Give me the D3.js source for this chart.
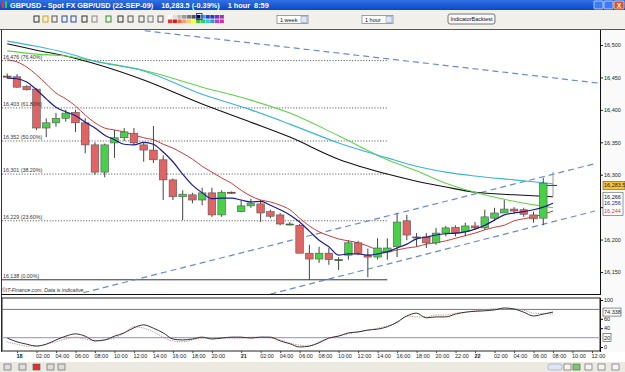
<!DOCTYPE html>
<html>
<head>
<meta charset="utf-8">
<script src="https://cdn.jsdelivr.net/npm/d3@7"></script>
<style>
body { margin: 0; background: #fff; }
svg { display: block; font-family: "Liberation Sans", Arial, sans-serif; }
</style>
</head>
<body>
<svg id="chart" width="625" height="372"></svg>
<script>
// hourly candles, index -1 = Thu 23:00, 0 = Fri 18 00:00, 23 = Mon 21 00:00, 47 = Tue 22 00:00
var firstIdx = -1;
var open  = [16452,16451,16436,16432,16372,16380,16387,16396,16380,16346,16304,16349,16357,16364,16346,16338,16323,16292,16266,16269,16261,16272,16238,16273,16243,16252,16255,16243,16238,16224,16222,16179,16170,16179,16169,16176,16195,16176,16173,16181,16189,16229,16204,16204,16195,16210,16219,16212,16221,16218,16233,16241,16247,16246,16238,16233,16287];
var high  = [16456,16455,16438,16433,16387,16395,16400,16400,16387,16350,16348,16369,16372,16372,16350,16375,16330,16294,16276,16272,16280,16280,16276,16274,16261,16263,16261,16246,16241,16227,16224,16192,16189,16187,16173,16199,16198,16186,16202,16202,16241,16238,16210,16210,16218,16221,16222,16226,16227,16246,16249,16261,16250,16249,16243,16295,16304];
var low   = [16448,16434,16430,16369,16358,16374,16382,16366,16333,16300,16296,16326,16352,16346,16320,16318,16261,16261,16230,16256,16253,16235,16235,16271,16242,16249,16227,16233,16222,16222,16179,16138,16164,16161,16153,16169,16176,16142,16169,16169,16173,16199,16189,16187,16192,16205,16205,16205,16215,16215,16230,16241,16239,16235,16226,16222,16266];
var close = [16451,16435,16431,16372,16380,16387,16395,16380,16346,16304,16346,16357,16366,16349,16338,16323,16292,16266,16270,16261,16272,16238,16273,16272,16252,16256,16241,16236,16224,16224,16179,16170,16179,16169,16169,16195,16179,16173,16187,16187,16227,16207,16204,16195,16210,16218,16210,16221,16218,16235,16241,16247,16244,16239,16232,16287,16283.5];

// short moving averages, one value per candle
var maBlue = [16449,16448,16443,16431,16417,16404,16397,16391,16381,16372,16361,16354,16347,16346,16350,16347,16335,16320,16301,16284,16272,16263,16264,16264,16261,16258,16259,16253,16246,16238,16227,16213,16199,16189,16176,16178,16178,16176,16178,16181,16187,16193,16201,16204,16207,16209,16210,16212,16216,16222,16230,16238,16241,16243,16246,16250,16256];
var maRed  = [16477,16474,16466,16454,16440,16426,16417,16406,16392,16380,16372,16369,16366,16361,16357,16354,16347,16341,16333,16324,16313,16304,16295,16287,16276,16267,16261,16258,16253,16246,16233,16221,16212,16206,16201,16198,16195,16190,16184,16181,16184,16187,16189,16193,16195,16198,16202,16206,16210,16215,16219,16222,16229,16232,16235,16239,16244];

// long moving averages read at these candle indexes
var maLongIdx = [-1,2,5,8,13,19,24,28,33,38,41,44,47,51,55];
var maBlack = [16502,16492,16483,16471,16446,16409,16381,16358,16324,16301,16290,16281,16273,16269,16266];
var maCyan  = [16506,16498,16488,16475,16460,16424,16400,16378,16349,16326,16313,16304,16298,16292,16286];
var maGreen = [16491,16486,16483,16475,16461,16435,16415,16395,16360,16323,16306,16287,16273,16259,16249];

// fibonacci retracement
var fibPrices = [16476,16403,16352,16301,16229,16138];
var fibPct = ["76.40%","61.80%","50.00%","38.20%","23.60%","0.00%"];
var fibEndIdx = 38;

// hand drawn trend lines [index, price]
var trendLines = [
	[[13.1,16522],[59.8,16441]],
	[[6.8,16118],[59.3,16317]],
	[[26,16116],[59.3,16244]]
];

// stochastic oscillator, one value per candle
var stochK = [19,11,6,2,6,15,23,28,23,13,15,23,30,41,47,40,30,17,15,17,21,17,19,21,21,19,21,21,13,7,0,2,9,19,23,30,32,36,38,43,53,66,72,62,64,64,70,74,76,77,79,83,81,74,66,70,74.338];
var stochD = [11,6,2,2,6,11,17,21,17,13,15,19,30,43,40,32,21,13,11,15,19,19,19,19,19,21,21,19,15,8,4,2,11,19,24,28,32,36,40,45,51,66,64,64,68,68,72,74,77,79,81,81,81,78,72,71,70];

var priceTicks = [16150,16200,16250,16300,16350,16400,16450,16500];
var oscTicks = [0,40,60,100];
var timeTickIdx = [0,2,4,6,8,10,12,14,16,18,20,23,25,27,29,31,33,35,37,39,41,43,45,47,49,51,53,55,57,59];
var timeTickLabels = ["18","02:00","04:00","06:00","08:00","10:00","12:00","14:00","16:00","18:00","20:00","21","02:00","04:00","06:00","08:00","10:00","12:00","14:00","16:00","18:00","20:00","22:00","22","02:00","04:00","06:00","08:00","10:00","12:00"];

var width = 625, height = 372;
var svg = d3.select("#chart");

var x = d3.scaleLinear().domain([0, 55]).range([17, 553]);
var y = d3.scaleLinear().domain([16150, 16500]).range([272, 45]);
var yo = d3.scaleLinear().domain([0, 100]).range([347, 300]);
var fmt = d3.format(",");

var candles = open.map(function(o, i) {
	return {i: i + firstIdx, o: o, h: high[i], l: low[i], c: close[i]};
});

//window title bar
var grad = svg.append("defs").append("linearGradient").attr("id", "tb")
	.attr("x1", 0).attr("y1", 0).attr("x2", 0).attr("y2", 1);
grad.append("stop").attr("offset", "0%").attr("stop-color", "#3270e6");
grad.append("stop").attr("offset", "100%").attr("stop-color", "#0a48c8");
svg.append("rect").attr("x", 0).attr("y", 0).attr("width", width).attr("height", 10).attr("fill", "url(#tb)");
svg.append("rect").attr("x", 2).attr("y", 2).attr("width", 2).attr("height", 6).attr("fill", "#e33");
svg.append("rect").attr("x", 5).attr("y", 1).attr("width", 2).attr("height", 7).attr("fill", "#3c3");
svg.append("text").attr("x", 10).attr("y", 8).attr("fill", "#fff").attr("font-size", 7.3).attr("font-weight", "bold")
	.attr("xml:space", "preserve")
	.text("GBPUSD - Spot FX GBP/USD (22-SEP-09)    16,283.5 (-0.39%)    1 hour  8:59");
[594, 604].forEach(function(bx) {
	svg.append("rect").attr("x", bx).attr("y", 1).attr("width", 9).attr("height", 8).attr("rx", 1)
		.attr("fill", "#3d7bf2").attr("stroke", "#fff").attr("stroke-width", 0.6);
});
svg.append("rect").attr("x", 614).attr("y", 1).attr("width", 10).attr("height", 8).attr("rx", 1)
	.attr("fill", "#e0502a").attr("stroke", "#fff").attr("stroke-width", 0.6);
svg.append("text").attr("x", 619).attr("y", 8).attr("text-anchor", "middle").attr("fill", "#fff")
	.attr("font-size", 7).attr("font-weight", "bold").text("X");

//toolbar
svg.append("rect").attr("x", 0).attr("y", 10).attr("width", width).attr("height", 19).attr("fill", "#f1f0ea");
svg.append("line").attr("x1", 0).attr("x2", width).attr("y1", 29.5).attr("y2", 29.5).attr("stroke", "#555");
var icons = [34, 43, 52, 62, 71, 82, 92, 106, 118, 128, 139, 148, 158];
icons.forEach(function(ix, k) {
	var col = ["#333", "#d9a400", "#555", "#2a4aa0", "#2a4aa0", "#333", "#888", "#2f8f2f", "#333", "#555", "#555", "#777", "#555"][k];
	svg.append("rect").attr("x", ix).attr("y", 16).attr("width", 5).attr("height", 6)
		.attr("fill", "none").attr("stroke", col).attr("stroke-width", 1);
});
var palTop = ["#fff", "#ddd", "#bbb", "#999", "#777", "#555", "#000", "#39f", "#24c", "#33c", "#63c", "#a3a"];
var palBot = ["#e33", "#c22", "#e64", "#f96", "#fc6", "#ff3", "#3c3", "#3c6", "#3cc", "#39c", "#c3c", "#c39"];
palTop.forEach(function(c, k) {
	svg.append("rect").attr("x", 168 + k * 4.7).attr("y", 15).attr("width", 4.2).attr("height", 3.6).attr("fill", c);
	svg.append("rect").attr("x", 168 + k * 4.7).attr("y", 19.5).attr("width", 4.2).attr("height", 3.6).attr("fill", palBot[k]);
});
svg.append("rect").attr("x", 196.5).attr("y", 13.5).attr("width", 5.5).attr("height", 6).attr("fill", "none").attr("stroke", "#24c");
[[277, "1 week"], [362, "1 hour"]].forEach(function(d) {
	svg.append("rect").attr("x", d[0]).attr("y", 15.5).attr("width", 31).attr("height", 8)
		.attr("fill", "#fff").attr("stroke", "#7a8aa8").attr("stroke-width", 0.8);
	svg.append("rect").attr("x", d[0] + 24).attr("y", 16.5).attr("width", 6).attr("height", 6)
		.attr("fill", "#dfe6f5").attr("stroke", "#7a8aa8").attr("stroke-width", 0.5);
	svg.append("text").attr("x", d[0] + 3).attr("y", 22).attr("font-size", 5.5).attr("fill", "#111").text(d[1]);
});
svg.append("rect").attr("x", 448).attr("y", 14).attr("width", 47).attr("height", 10).attr("rx", 2)
	.attr("fill", "#f8f8f8").attr("stroke", "#555").attr("stroke-width", 0.8);
svg.append("text").attr("x", 471.5).attr("y", 21.2).attr("text-anchor", "middle").attr("font-size", 5.5)
	.attr("fill", "#111").text("IndicatorBacktest");

//main panel frame
svg.append("rect").attr("x", 600).attr("y", 30).attr("width", 25).attr("height", 322).attr("fill", "#fafafa");
svg.append("clipPath").attr("id", "main").append("rect").attr("x", 2).attr("y", 30).attr("width", 598).attr("height", 264);
var g = svg.append("g").attr("clip-path", "url(#main)");

//fibonacci levels
g.selectAll(".fib").data(fibPrices).enter().append("line")
	.attr("x1", 2).attr("x2", x(fibEndIdx))
	.attr("y1", function(d) { return y(d); }).attr("y2", function(d) { return y(d); })
	.attr("stroke", function(d, i) { return i == fibPrices.length - 1 ? "#333" : "#666"; })
	.attr("stroke-dasharray", function(d, i) { return i == fibPrices.length - 1 ? null : "1.2,1.6"; })
	.attr("stroke-width", 1);

//trend lines
g.selectAll(".trend").data(trendLines).enter().append("line")
	.attr("x1", function(d) { return x(d[0][0]); }).attr("y1", function(d) { return y(d[0][1]); })
	.attr("x2", function(d) { return x(d[1][0]); }).attr("y2", function(d) { return y(d[1][1]); })
	.attr("stroke", "#6a8ad0").attr("stroke-width", 1.2).attr("stroke-dasharray", "6,4");

//moving averages
var lineIdx = d3.line().x(function(d, i) { return x(i + firstIdx); }).y(function(d) { return y(d); }).curve(d3.curveMonotoneX);
var lineLong = d3.line().x(function(d, i) { return x(maLongIdx[i]); }).y(function(d) { return y(d); }).curve(d3.curveMonotoneX);
g.append("path").datum(maBlack).attr("d", lineLong).attr("fill", "none").attr("stroke", "#111").attr("stroke-width", 1.1);
g.append("path").datum(maGreen).attr("d", lineLong).attr("fill", "none").attr("stroke", "#5fd34a").attr("stroke-width", 1.1);
g.append("path").datum(maCyan).attr("d", lineLong).attr("fill", "none").attr("stroke", "#3ab3d6").attr("stroke-width", 1.1);
g.append("path").datum(maRed).attr("d", lineIdx).attr("fill", "none").attr("stroke", "#c83a3a").attr("stroke-width", 1);

//candles
var bw = (x(1) - x(0)) * 0.78;
var cg = g.selectAll(".candle").data(candles).enter().append("g").attr("class", "candle");
cg.append("line")
	.attr("x1", function(d) { return x(d.i); }).attr("x2", function(d) { return x(d.i); })
	.attr("y1", function(d) { return y(d.h); }).attr("y2", function(d) { return y(d.l); })
	.attr("stroke", function(d) { return d.i == 55 ? "#999" : "#444"; }).attr("stroke-width", 1);
cg.filter(function(d) { return d.i != 55; }).append("rect")
	.attr("x", function(d) { return x(d.i) - bw / 2; })
	.attr("y", function(d) { return y(Math.max(d.o, d.c)); })
	.attr("width", bw)
	.attr("height", function(d) { return Math.max(1, y(Math.min(d.o, d.c)) - y(Math.max(d.o, d.c))); })
	.attr("fill", function(d) { return d.c >= d.o ? "#49d049" : "#e06464"; })
	.attr("stroke", function(d) { return Math.abs(d.c - d.o) < 2 ? "#333" : "#555"; })
	.attr("stroke-width", 0.6);
cg.filter(function(d) { return d.i == 55; }).append("line")
	.attr("x1", function(d) { return x(d.i) - 6; }).attr("x2", function(d) { return x(d.i) + 4; })
	.attr("y1", function(d) { return y(d.c); }).attr("y2", function(d) { return y(d.c); })
	.attr("stroke", "#333").attr("stroke-width", 1);

g.append("path").datum(maBlue).attr("d", lineIdx).attr("fill", "none").attr("stroke", "#1c1c8c").attr("stroke-width", 1.2);

//fibonacci labels on top
g.selectAll(".fibl").data(fibPrices).enter().append("text")
	.attr("x", 3).attr("y", function(d) { return y(d) - 2; })
	.attr("font-size", 5.3).attr("fill", "#333")
	.text(function(d, i) { return fmt(d) + " (" + fibPct[i] + ")"; });

svg.append("text").attr("x", 2).attr("y", 292).attr("font-size", 5.2).attr("font-style", "italic").attr("fill", "#333")
	.text("©IT-Finance.com. Data is indicative.");

svg.append("line").attr("x1", 1.5).attr("x2", 1.5).attr("y1", 30).attr("y2", 352).attr("stroke", "#333");
svg.append("line").attr("x1", 1).attr("x2", 600).attr("y1", 294.5).attr("y2", 294.5).attr("stroke", "#111").attr("stroke-width", 1.2);

//price axis, 16,250 label sits under the value boxes
var ya = svg.append("g").attr("transform", "translate(600,0)")
	.call(d3.axisRight(y).tickValues(priceTicks).tickSize(3).tickPadding(1)
		.tickFormat(function(d) { return d == 16250 ? "" : fmt(d); }));
ya.select(".domain").remove();
ya.append("line").attr("x1", 0.5).attr("x2", 0.5).attr("y1", 30).attr("y2", 295).attr("stroke", "#111");
ya.selectAll("text").attr("font-size", 5.5).attr("fill", "#222").attr("font-family", "Liberation Sans, Arial");
ya.selectAll(".tick line").attr("stroke", "#222");

//last value labels
var last = close[close.length - 1];
svg.append("rect").attr("x", 603).attr("y", y(last) - 4).attr("width", 22).attr("height", 8)
	.attr("fill", "#f9c33a").attr("stroke", "#555").attr("stroke-width", 0.6);
svg.append("text").attr("x", 604).attr("y", y(last) + 2).attr("font-size", 5.5).attr("fill", "#222").text("16,283.5");
var lastMa = [[maBlack[maBlack.length - 1], "#111"], [maBlue[maBlue.length - 1], "#1c1c8c"], [maRed[maRed.length - 1], "#c83a3a"]];
svg.append("rect").attr("x", 603).attr("y", y(lastMa[0][0]) - 4.5).attr("width", 20)
	.attr("height", y(lastMa[2][0]) - y(lastMa[0][0]) + 9).attr("fill", "#fff").attr("stroke", "#555").attr("stroke-width", 0.6);
lastMa.forEach(function(d) {
	svg.append("text").attr("x", 604).attr("y", y(d[0]) + 2).attr("font-size", 5.5).attr("fill", d[1]).text(fmt(d[0]));
});

//oscillator panel
svg.append("rect").attr("x", 2).attr("y", 298).attr("width", 598).attr("height", 53)
	.attr("fill", "#fff").attr("stroke", "#222").attr("stroke-width", 1);
svg.append("line").attr("x1", 2).attr("x2", 600).attr("y1", yo(80)).attr("y2", yo(80)).attr("stroke", "#777");
svg.append("line").attr("x1", 2).attr("x2", 600).attr("y1", yo(20)).attr("y2", yo(20)).attr("stroke", "#a4a4d6").attr("stroke-width", 1.3);
var lineOsc = d3.line().x(function(d, i) { return x(i + firstIdx); }).y(function(d) { return yo(d); }).curve(d3.curveMonotoneX);
svg.append("path").datum(stochD).attr("d", lineOsc).attr("fill", "none").attr("stroke", "#c48a8a").attr("stroke-dasharray", "1.2,1.2");
svg.append("path").datum(stochK).attr("d", lineOsc).attr("fill", "none").attr("stroke", "#333").attr("stroke-width", 1);

var oa = svg.append("g").attr("transform", "translate(600,0)")
	.call(d3.axisRight(yo).tickValues(oscTicks).tickSize(3).tickPadding(1));
oa.select(".domain").remove();
oa.append("line").attr("x1", 0.5).attr("x2", 0.5).attr("y1", 298).attr("y2", 352).attr("stroke", "#111");
oa.selectAll("text").attr("font-size", 5.5).attr("fill", "#222").attr("font-family", "Liberation Sans, Arial");
[[stochK[stochK.length - 1], "74.338", 18], [20, "20", 8]].forEach(function(d) {
	svg.append("rect").attr("x", 603).attr("y", yo(d[0]) - 4).attr("width", d[2]).attr("height", 8)
		.attr("fill", "#fff").attr("stroke", "#444").attr("stroke-width", 0.6);
	svg.append("text").attr("x", 604).attr("y", yo(d[0]) + 2).attr("font-size", 5.5).attr("fill", "#222").text(d[1]);
});

//time axis
svg.append("rect").attr("x", 0).attr("y", 352).attr("width", 600).attr("height", 10).attr("fill", "#fff");
var xa = svg.append("g").attr("transform", "translate(0,351)")
	.call(d3.axisBottom(x).tickValues(timeTickIdx).tickSize(2).tickPadding(1)
		.tickFormat(function(d) { return timeTickLabels[timeTickIdx.indexOf(d)]; }));
xa.select(".domain").remove();
xa.selectAll("text").attr("text-anchor", "start").attr("dx", -1).attr("font-size", 5.5).attr("fill", "#222")
	.attr("font-family", "Liberation Sans, Arial")
	.attr("font-weight", function(d) { return timeTickLabels[timeTickIdx.indexOf(d)].length < 3 ? "bold" : "normal"; });
xa.selectAll(".tick line").attr("stroke", "#444");

//bottom toolbar
svg.append("rect").attr("x", 0).attr("y", 362).attr("width", width).attr("height", 10).attr("fill", "#ece9e0");
[4, 19, 33, 47, 58].forEach(function(bx, k) {
	svg.append("rect").attr("x", bx).attr("y", 364).attr("width", 7).attr("height", 6)
		.attr("fill", k == 2 ? "#d33" : "#ddd").attr("stroke", "#555").attr("stroke-width", 0.6);
});
svg.append("rect").attr("x", 548).attr("y", 364).attr("width", 14).attr("height", 6).attr("rx", 2)
	.attr("fill", "#dfe6f5").attr("stroke", "#7a8aa8").attr("stroke-width", 0.5);
[564, 573, 585, 598, 612].forEach(function(bx, k) {
	svg.append("rect").attr("x", bx).attr("y", 364).attr("width", 7).attr("height", 6)
		.attr("fill", k == 1 ? "#7c6" : "#f4f4f4").attr("stroke", "#555").attr("stroke-width", 0.6);
});
</script>
</body>
</html>
